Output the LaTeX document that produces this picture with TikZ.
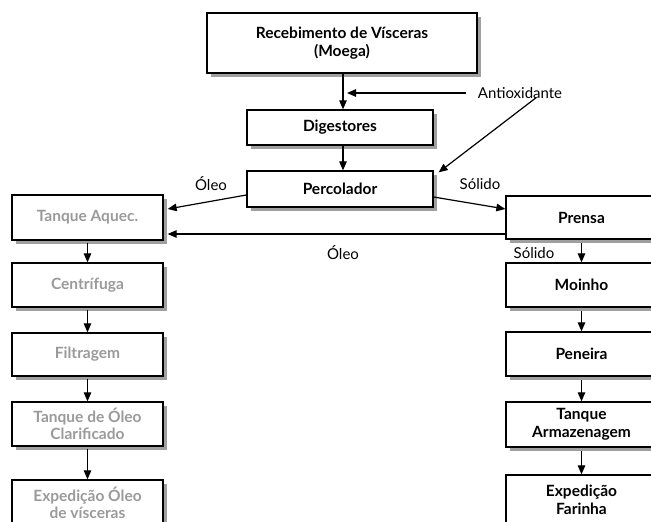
\documentclass[tikz,border=0pt]{standalone}
\usepackage{fontspec}
\setmainfont{Lato}
\usetikzlibrary{arrows.meta,shadows}
\definecolor{shadowgray}{HTML}{A0A0A0}
\definecolor{fadedtext}{HTML}{9A9A9A}
\tikzset{
  stepbox/.style={draw=black, line width=1.3pt, fill=white, inner sep=0pt,
    align=center, font=\fontsize{15.5}{17.5}\selectfont\bfseries,
    drop shadow={shadow xshift=4pt, shadow yshift=-4pt, fill=shadowgray, opacity=1}},
  oilbox/.style={stepbox, text=fadedtext},
  flow/.style={line width=1.2pt, -{Triangle[length=9pt,width=7.5pt]}},
  lbl/.style={font=\fontsize{15}{17}\selectfont, inner sep=0pt}
}
\begin{document}
\begin{tikzpicture}[x=1pt,y=-1pt]
\useasboundingbox (0,0) rectangle (651,522);

% central line
\node[stepbox, minimum width=270pt, minimum height=60pt] (rec) at (342,43) {Recebimento de Vísceras\\(Moega)};
\node[stepbox, minimum width=186pt, minimum height=35pt] (dig) at (340,127.5) {Digestores};
\node[stepbox, minimum width=186pt, minimum height=36pt] (perc) at (340,189) {Percolador};

% oil line
\node[oilbox, minimum width=151pt, minimum height=45pt] (tq) at (87.5,217.5) {Tanque Aquec.};
\node[oilbox, minimum width=151pt, minimum height=44pt] (cen) at (87.5,285) {Centrífuga};
\node[oilbox, minimum width=151pt, minimum height=43pt] (fil) at (87.5,354.5) {Filtragem};
\node[oilbox, minimum width=151pt, minimum height=44pt] (tqc) at (87.5,424) {Tanque de Óleo\\Clarificado};
\node[oilbox, minimum width=151pt, minimum height=46pt] (exo) at (87.5,503) {Expedição Óleo\\de vísceras};

% meal line
\node[stepbox, minimum width=151pt, minimum height=43pt] (pre) at (581.5,217.5) {Prensa};
\node[stepbox, minimum width=151pt, minimum height=44pt] (moi) at (581.5,285) {Moinho};
\node[stepbox, minimum width=151pt, minimum height=44pt] (pen) at (581.5,354) {Peneira};
\node[stepbox, minimum width=151pt, minimum height=45pt] (tar) at (581.5,424.5) {Tanque\\Armazenagem};
\node[stepbox, minimum width=151pt, minimum height=50pt] (exf) at (581.5,500) {Expedição\\Farinha};

% labels
\node[lbl] (anti) at (520,93) {Antioxidante};
\node[lbl] (oleoA) at (211,184) {Óleo};
\node[lbl] (solA) at (480,184) {Sólido};
\node[lbl] (oleoB) at (343,253) {Óleo};
\node[lbl] (solB) at (534,253) {Sólido};

\coordinate (feed) at (347,93);

% connectors
\draw[flow] ([xshift=1pt]rec.south) -- ([xshift=3pt]dig.north);
\draw[flow] ([xshift=-12pt]anti.west) -- (feed);
\draw[flow] ([xshift=16pt,yshift=1pt]anti.south) -- ([xshift=5pt,yshift=-2pt]perc.north east);
\draw[flow] ([xshift=3pt]dig.south) -- ([xshift=3pt]perc.north);
\draw[flow] ([yshift=-6pt]perc.west) -- ([xshift=4pt,yshift=8.5pt]tq.east);
\draw[flow] ([yshift=-8pt]perc.east) -- ([yshift=8.5pt]pre.west);
\draw[flow] ([yshift=-16.5pt]pre.west) -- ([xshift=4pt,yshift=-16.5pt]tq.east);

\draw[flow] ([yshift=-2pt]tq.south) -- (cen.north);
\draw[flow] ([yshift=-2pt]cen.south) -- (fil.north);
\draw[flow] ([yshift=-2pt]fil.south) -- (tqc.north);
\draw[flow] ([yshift=-2pt]tqc.south) -- (exo.north);

\draw[flow] ([yshift=-3pt]pre.south) -- (moi.north);
\draw[flow] ([yshift=-3pt]moi.south) -- (pen.north);
\draw[flow] ([yshift=-3pt]pen.south) -- (tar.north);
\draw[flow] ([yshift=-3pt]tar.south) -- (exf.north);
\end{tikzpicture}
\end{document}
